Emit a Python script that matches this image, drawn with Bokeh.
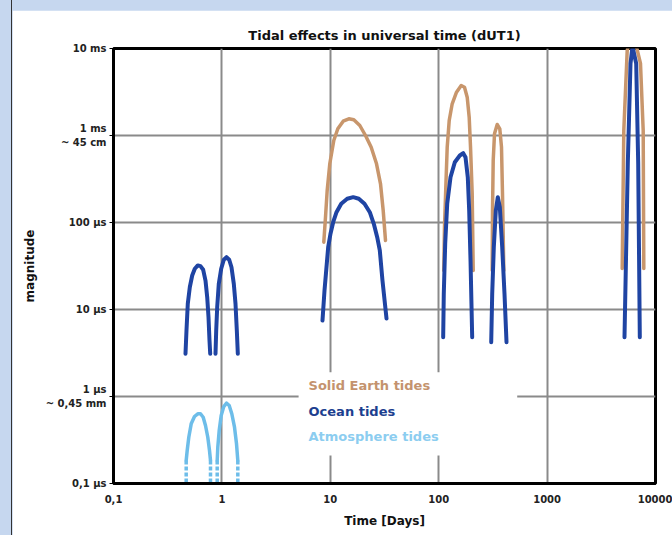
from bokeh.plotting import figure
from bokeh.models import Range1d, FixedTicker, Label, BoxAnnotation, Spacer
from bokeh.layouts import column, row
from bokeh.embed import file_html
from bokeh.resources import INLINE

FONT = "DejaVu Sans"

# ---- ticks / labels ----
x_ticks = [0.1, 1, 10, 100, 1000, 10000]
x_tick_labels = ["0,1", "1", "10", "100", "1000", "10000"]
y_ticks = [0.1, 1, 10, 100, 1000, 10000]          # micro-seconds
y_tick_labels = ["0,1 µs", "1 µs\n~ 0,45 mm", "10 µs", "100 µs", "1 ms\n~ 45 cm", "10 ms"]
grid_ticks = [1, 10, 100, 1000]

# ---- Solid Earth tides (period in days, magnitude in µs) ----
solid_x = [
    [8.71, 9.03, 9.36, 9.89, 10.77, 11.73, 13.15, 14.82, 16.48, 18.72, 21.12, 23.84, 26.69, 29.05, 30.76, 32.30],
    [111.4, 113.1, 116.3, 119.8, 125.0, 133.2, 146.0, 161.3, 173.0, 183.2, 191.1, 196.6, 203.7, 208.2],
    [311.6, 313.6, 318.3, 327.2, 346.5, 366.2, 379.6, 387.8, 398.7],
    [4929, 5100, 5482, 6138, 7270, 7700, 7800],
]
solid_y = [
    [59.4, 115.1, 233.3, 472.8, 876, 1194, 1460, 1556, 1515, 1303, 1000, 733.8, 472.8, 278.5, 137.4, 62.1],
    [28.07, 88.3, 254.5, 733.8, 1487, 2314, 3146, 3755, 3591, 2756, 1623, 733.8, 213.8, 28.07],
    [28.07, 137.4, 516, 1046, 1338, 1194, 733.8, 213.8, 28.07],
    [29.6, 1141, 9483, 16100, 6730, 1141, 29.6],
]

# ---- Ocean tides ----
ocean_x = [
    [0.4615, 0.4713, 0.4845, 0.5057, 0.5321, 0.5623, 0.5992, 0.6346, 0.6721, 0.7058, 0.7318, 0.7523, 0.7684, 0.7800],
    [0.873, 0.886, 0.905, 0.936, 0.985, 1.041, 1.103, 1.168, 1.226, 1.288, 1.335, 1.373, 1.402],
    [8.47, 8.84, 9.56, 10.04, 10.63, 11.41, 12.61, 14.32, 16.27, 18.32, 20.68, 23.14, 25.19, 27.08, 28.62, 30.30, 33.00],
    [110.0, 111.4, 114.8, 119.8, 128.5, 140.8, 156.6, 168.3, 176.7, 185.5, 191.1, 196.6, 203.7],
    [305.1, 311.6, 322.4, 336.4, 350.9, 366.2, 385.3, 404.6, 422.2],
    [5176, 5553, 5880, 6138, 6637, 6925, 7165],
]
ocean_y = [
    [3.10, 5.74, 11.64, 18.03, 24.6, 29.4, 32.1, 31.5, 28.6, 21.5, 13.84, 8.15, 4.41, 3.10],
    [3.10, 5.74, 10.62, 19.7, 29.4, 37.3, 39.9, 37.3, 30.6, 19.7, 11.64, 5.74, 3.10],
    [7.47, 16.53, 52.0, 74.2, 100.8, 131.3, 164.1, 187.3, 195.4, 187.3, 164.1, 131.3, 96.6, 67.8, 47.7, 21.5, 7.88],
    [4.80, 15.15, 56.9, 164.1, 331.6, 493.3, 589.0, 626.0, 563.1, 331.6, 137.4, 36.6, 4.80],
    [4.21, 15.15, 52.0, 137.4, 195.4, 149.9, 52.0, 15.15, 4.21],
    [4.80, 476.8, 6730, 10540, 6730, 476.8, 4.80],
]

# ---- Atmosphere tides ----
atmo_x = [
    [0.4684, 0.4785, 0.4950, 0.5209, 0.5587, 0.5992, 0.6346, 0.6721, 0.7058, 0.7411, 0.7684, 0.7849],
    [0.905, 0.9167, 0.9443, 0.985, 1.041, 1.103, 1.168, 1.234, 1.307, 1.364, 1.402],
]
atmo_y = [
    [0.1837, 0.2395, 0.3404, 0.4853, 0.589, 0.633, 0.633, 0.578, 0.4641, 0.3404, 0.2395, 0.1837],
    [0.1837, 0.2612, 0.4066, 0.605, 0.767, 0.838, 0.788, 0.633, 0.4436, 0.2858, 0.1837],
]
atmo_leg_x = [0.4684, 0.7849, 0.905, 1.402]
atmo_leg_top = [0.1837, 0.1837, 0.1837, 0.1837]
atmo_leg_bottom = [0.1035, 0.1035, 0.1035, 0.1035]

SOLID_C = "#c8966c"
OCEAN_C = "#1f44a3"
ATMO_C = "#6dbde9"

p = figure(width=660, height=525,
           x_axis_type="log", y_axis_type="log",
           x_range=Range1d(0.1, 10000), y_range=Range1d(0.1, 10000),
           output_backend="svg", toolbar_location=None,
           min_border_left=101, min_border_right=17,
           min_border_top=38, min_border_bottom=52,
           background_fill_color="white", border_fill_color="white")

p.title.text = "Tidal effects in universal time (dUT1)"
p.title.align = "center"
p.title.text_font = FONT
p.title.text_font_size = "13px"
p.title.text_font_style = "bold"
p.title.text_color = "#111111"
p.title.standoff = 12

p.outline_line_color = "black"
p.outline_line_width = 3

for ax in (p.xaxis[0], p.yaxis[0]):
    ax.axis_line_color = "black"
    ax.axis_line_width = 3
    ax.major_tick_line_color = "black"
    ax.major_tick_line_width = 1
    ax.minor_tick_line_color = None
    ax.major_label_text_font = FONT
    ax.major_label_text_font_size = "10px"
    ax.major_label_text_font_style = "bold"
    ax.major_label_text_color = "#222222"
    ax.axis_label_text_font = FONT
    ax.axis_label_text_font_style = "bold"
    ax.axis_label_text_font_size = "12px"
    ax.axis_label_text_color = "#111111"

p.xaxis.ticker = FixedTicker(ticks=x_ticks)
p.xaxis.major_label_overrides = dict(zip(x_ticks, x_tick_labels))
p.xaxis.major_tick_out = 0
p.xaxis.major_tick_in = 0
p.xaxis.major_label_standoff = 11
p.xaxis.axis_label = "Time [Days]"
p.xaxis.axis_label_standoff = 8

p.yaxis.ticker = FixedTicker(ticks=y_ticks)
p.yaxis.major_label_overrides = dict(zip(y_ticks, y_tick_labels))
p.yaxis.major_tick_out = 4
p.yaxis.major_tick_in = 0
p.yaxis.major_label_standoff = 3
p.yaxis.axis_label = "magnitude"
p.yaxis.axis_label_standoff = 6

p.xgrid.ticker = FixedTicker(ticks=grid_ticks)
p.ygrid.ticker = FixedTicker(ticks=grid_ticks)
p.grid.grid_line_color = "#8a8a8a"
p.grid.grid_line_width = 2

p.multi_line(solid_x, solid_y, line_color=SOLID_C, line_width=3.5, line_join="round", line_cap="round")
p.multi_line(ocean_x, ocean_y, line_color=OCEAN_C, line_width=4, line_join="round", line_cap="round")
p.multi_line(atmo_x, atmo_y, line_color=ATMO_C, line_width=3.5, line_join="round", line_cap="round")
p.segment(x0=atmo_leg_x, y0=atmo_leg_top, x1=atmo_leg_x, y1=atmo_leg_bottom,
          line_color=ATMO_C, line_width=3.5, line_dash="4 2")

# legend panel (white box hiding the grid) with coloured texts
p.add_layout(BoxAnnotation(left=5.1, right=530, bottom=0.21, top=1.9,
                           fill_color="white", fill_alpha=1.0, line_alpha=0))
for txt, col, yy in [("Solid Earth tides", "#c4936e", 1.34),
                     ("Ocean tides", "#1d3f8f", 0.673),
                     ("Atmosphere tides", "#8ccdf0", 0.347)]:
    p.add_layout(Label(x=6.3, y=yy, text=txt, text_color=col, text_font=FONT,
                       text_font_size="13px", text_font_style="bold",
                       text_baseline="middle"))

layout = row(
    Spacer(width=11, height=535),
    Spacer(width=1, height=535, styles={"background-color": "#333333"}),
    column(Spacer(width=660, height=10), p, spacing=0),
    spacing=0,
    styles={"background-color": "#c6d7ef"},
)

open("out.html", "w").write(file_html(layout, INLINE))
